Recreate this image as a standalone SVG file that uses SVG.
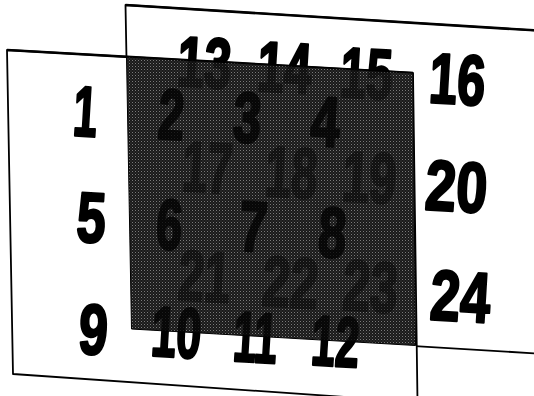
<svg xmlns="http://www.w3.org/2000/svg" width="534" height="396" viewBox="0 0 534 396">
<style>
.sheet{fill:#fff;stroke:#000;stroke-width:1.8;stroke-linejoin:round}
.top{fill:none;stroke:#000;stroke-width:2.6}
.n{font-family:"Liberation Sans",Arial,sans-serif;font-weight:bold;font-size:71px;text-anchor:middle;fill:#000;stroke:#000;stroke-width:2.6;stroke-linejoin:round}
.dim-b{opacity:0.4}
.dim-f{opacity:0.75}
</style>
<defs>
<pattern id="stip" width="3" height="3" patternUnits="userSpaceOnUse">
<rect width="3" height="3" fill="#1a1a1a"/>
<rect x="0" y="0" width="1" height="1" fill="#7a7a7a"/>
<rect x="1.5" y="1.5" width="1" height="1" fill="#4a4a4a"/>
</pattern>
<clipPath id="ov"><polygon points="126.5,57 413,73 415.5,345.5 131.5,329"/></clipPath>
<g id="backNums">
<text class="n" x="203" y="87" textLength="54" lengthAdjust="spacingAndGlyphs" transform="rotate(3.4 203 87)">13</text>
<text class="n" x="283" y="92" textLength="54" lengthAdjust="spacingAndGlyphs" transform="rotate(3.4 283 92)">14</text>
<text class="n" x="365" y="98" textLength="52" lengthAdjust="spacingAndGlyphs" transform="rotate(3.4 365 98)">15</text>
<text class="n" x="456" y="104" textLength="56" lengthAdjust="spacingAndGlyphs" transform="rotate(3.4 456 104)">16</text>
<text class="n" x="206" y="192" textLength="50" lengthAdjust="spacingAndGlyphs" transform="rotate(3.4 206 192)">17</text>
<text class="n" x="290" y="197" textLength="52" lengthAdjust="spacingAndGlyphs" transform="rotate(3.4 290 197)">18</text>
<text class="n" x="368" y="202" textLength="54" lengthAdjust="spacingAndGlyphs" transform="rotate(3.4 368 202)">19</text>
<text class="n" x="455" y="211" textLength="62" lengthAdjust="spacingAndGlyphs" transform="rotate(3.4 455 211)">20</text>
<text class="n" x="203" y="301" textLength="52" lengthAdjust="spacingAndGlyphs" transform="rotate(3.4 203 301)">21</text>
<text class="n" x="289" y="307" textLength="56" lengthAdjust="spacingAndGlyphs" transform="rotate(3.4 289 307)">22</text>
<text class="n" x="369" y="311" textLength="55" lengthAdjust="spacingAndGlyphs" transform="rotate(3.4 369 311)">23</text>
<text class="n" x="459" y="321" textLength="60" lengthAdjust="spacingAndGlyphs" transform="rotate(3.4 459 321)">24</text>
</g>
<g id="frontNums">
<text class="n" x="84" y="136" textLength="24" lengthAdjust="spacingAndGlyphs" transform="rotate(3.4 84 136)">1</text>
<text class="n" x="170" y="139" textLength="26" lengthAdjust="spacingAndGlyphs" transform="rotate(3.4 170 139)">2</text>
<text class="n" x="246" y="142" textLength="28" lengthAdjust="spacingAndGlyphs" transform="rotate(3.4 246 142)">3</text>
<text class="n" x="324" y="146" textLength="29" lengthAdjust="spacingAndGlyphs" transform="rotate(3.4 324 146)">4</text>
<text class="n" x="90" y="242" textLength="29" lengthAdjust="spacingAndGlyphs" transform="rotate(3.4 90 242)">5</text>
<text class="n" x="168" y="249" textLength="26" lengthAdjust="spacingAndGlyphs" transform="rotate(3.4 168 249)">6</text>
<text class="n" x="252" y="251" textLength="28" lengthAdjust="spacingAndGlyphs" transform="rotate(3.4 252 251)">7</text>
<text class="n" x="331" y="257" textLength="28" lengthAdjust="spacingAndGlyphs" transform="rotate(3.4 331 257)">8</text>
<text class="n" x="92" y="354" textLength="29" lengthAdjust="spacingAndGlyphs" transform="rotate(3.4 92 354)">9</text>
<text class="n" x="175" y="357" textLength="50" lengthAdjust="spacingAndGlyphs" transform="rotate(3.4 175 357)">10</text>
<text class="n" x="254" y="362" textLength="44" lengthAdjust="spacingAndGlyphs" transform="rotate(3.4 254 362)">11</text>
<text class="n" x="334" y="366" textLength="48" lengthAdjust="spacingAndGlyphs" transform="rotate(3.4 334 366)">12</text>
</g>
</defs>
<rect width="534" height="396" fill="#fff"/>
<g id="sheet-back">
<polygon class="sheet" points="125.5,5 545,31 545,354 131.5,329"/>
<line class="top" x1="125.5" y1="5" x2="545" y2="31"/>
<use href="#backNums"/>
</g>
<g id="sheet-front">
<polygon class="sheet" points="7,50 413,73 417.5,402 13,374"/>
<line class="top" x1="7" y1="50" x2="413" y2="73"/>
<use href="#frontNums"/>
</g>
<g id="overlap">
<polygon points="126.5,57 413,73 415.5,345.5 131.5,329" fill="url(#stip)" stroke="#000" stroke-width="1"/>
<g clip-path="url(#ov)">
<use href="#backNums" class="dim-b"/>
<use href="#frontNums" class="dim-f"/>
</g>
</g>
</svg>
